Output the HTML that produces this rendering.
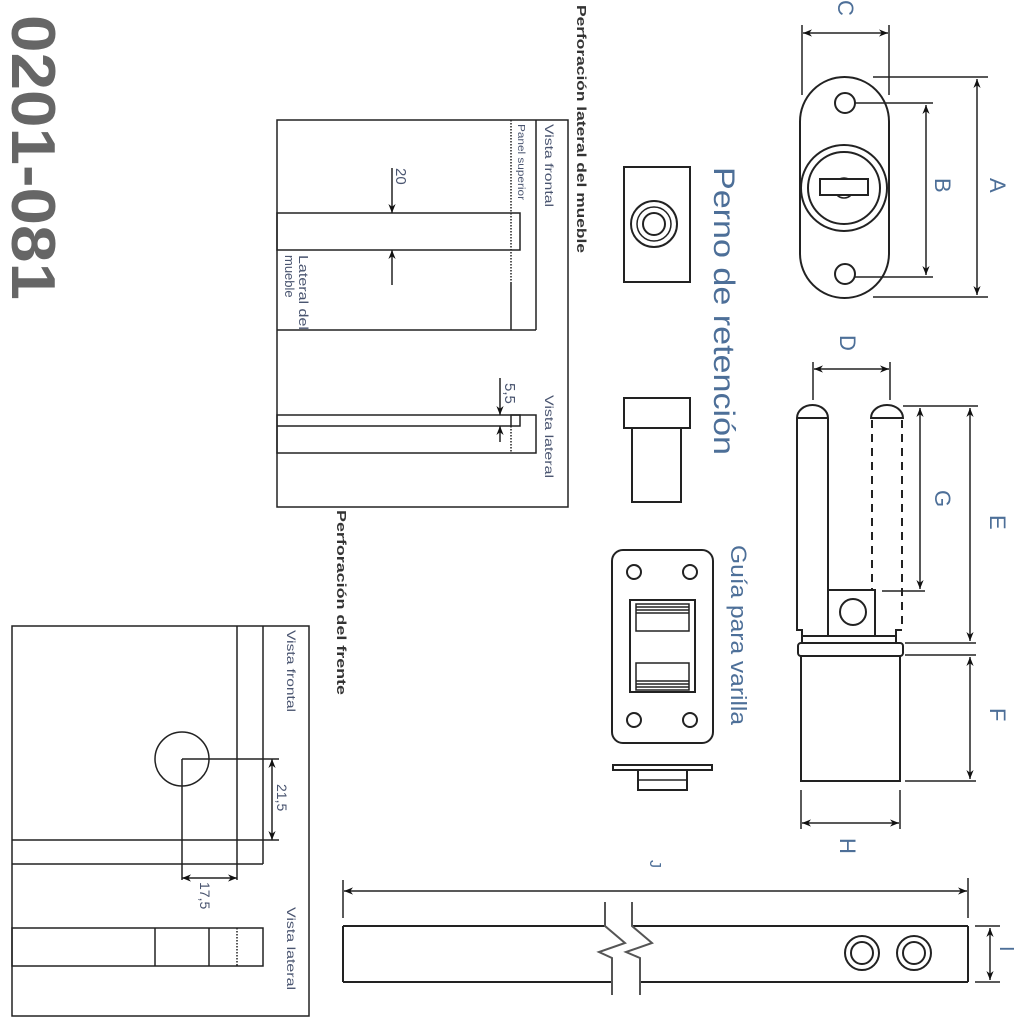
<!DOCTYPE html>
<html><head><meta charset="utf-8"><style>html,body{margin:0;padding:0;background:#fff}svg{display:block}</style></head>
<body>
<svg width="1024" height="1024" viewBox="0 0 1024 1024" xmlns="http://www.w3.org/2000/svg" font-family="Liberation Sans, DejaVu Sans, sans-serif">
<defs>
<marker id="ar" viewBox="0 0 10 10" refX="10" refY="5" markerWidth="9" markerHeight="9" orient="auto-start-reverse" markerUnits="userSpaceOnUse"><path d="M0,1 L10,5 L0,9 L3,5 Z" fill="#111"/></marker>
</defs>
<rect width="1024" height="1024" fill="#fff"/>
<text transform="translate(12,15) rotate(90)" font-size="62" font-weight="bold" fill="#666" textLength="285" lengthAdjust="spacingAndGlyphs">0201-081</text>

<g stroke="#222" stroke-width="1.5" fill="none">
<rect x="277" y="120" width="291" height="387"/>
<line x1="536" y1="120" x2="536" y2="330"/>
<line x1="511" y1="283" x2="511" y2="330"/>
<line x1="511" y1="120" x2="511" y2="283" stroke-dasharray="1.5,1.5"/>
<rect x="277" y="213" width="243" height="37"/>
<line x1="277" y1="330" x2="536" y2="330"/>
<line x1="392" y1="168" x2="392" y2="213" marker-end="url(#ar)"/>
<line x1="392" y1="285" x2="392" y2="250" marker-end="url(#ar)"/>
<rect x="277" y="415" width="259" height="38"/>
<line x1="277" y1="426" x2="511" y2="426"/>
<rect x="511" y="415" width="9" height="11"/>
<line x1="511" y1="426" x2="511" y2="453" stroke-dasharray="1.5,1.5"/>
<line x1="500" y1="378" x2="500" y2="415" marker-end="url(#ar)"/>
<line x1="500" y1="442" x2="500" y2="426" marker-end="url(#ar)"/>

<rect x="12" y="626" width="297" height="390"/>
<line x1="263" y1="626" x2="263" y2="864"/>
<line x1="237" y1="626" x2="237" y2="840"/>
<line x1="12" y1="840" x2="237" y2="840"/>
<line x1="12" y1="864" x2="263" y2="864"/>
<circle cx="182" cy="759" r="27"/>
<line x1="182" y1="759" x2="279" y2="759"/>
<line x1="182" y1="759" x2="182" y2="880"/>
<line x1="237" y1="840" x2="279" y2="840"/>
<line x1="237" y1="840" x2="237" y2="880"/>
<line x1="272" y1="759" x2="272" y2="840" marker-start="url(#ar)" marker-end="url(#ar)"/>
<line x1="182" y1="878" x2="237" y2="878" marker-start="url(#ar)" marker-end="url(#ar)"/>
<rect x="12" y="928" width="251" height="38"/>
<line x1="155" y1="928" x2="155" y2="966"/>
<line x1="209" y1="928" x2="209" y2="966"/>
<line x1="237" y1="928" x2="237" y2="966" stroke-dasharray="1.5,1.5"/>

<rect x="800" y="77" width="89" height="221" rx="44.5" ry="44.5" stroke-width="2"/>
<circle cx="845" cy="103" r="10" stroke-width="2"/>
<circle cx="845" cy="274" r="10" stroke-width="2"/>
<circle cx="844" cy="188" r="43" stroke-width="2"/>
<circle cx="844" cy="188" r="36" stroke-width="2"/>
<circle cx="844" cy="188" r="10" stroke-width="1.5"/>
<rect x="820" y="179" width="48" height="16" fill="#fff" stroke-width="2"/>
<line x1="802" y1="25" x2="802" y2="95"/>
<line x1="889" y1="25" x2="889" y2="95"/>
<line x1="803" y1="33" x2="888" y2="33" marker-start="url(#ar)" marker-end="url(#ar)"/>
<line x1="873" y1="77" x2="988" y2="77"/>
<line x1="873" y1="297" x2="988" y2="297"/>
<line x1="977" y1="79" x2="977" y2="295" marker-start="url(#ar)" marker-end="url(#ar)"/>
<line x1="855" y1="103" x2="933" y2="103"/>
<line x1="855" y1="277" x2="933" y2="277"/>
<line x1="926" y1="105" x2="926" y2="275" marker-start="url(#ar)" marker-end="url(#ar)"/>

<rect x="624" y="167" width="66" height="115" stroke-width="2"/>
<circle cx="654" cy="224" r="23" stroke-width="2"/>
<circle cx="654" cy="224" r="17" stroke-width="1.5"/>
<circle cx="654" cy="224" r="11" stroke-width="2"/>
<rect x="624" y="398" width="66" height="30" stroke-width="2"/>
<rect x="632" y="428" width="49" height="74" stroke-width="2"/>

<path d="M797,418 A15.5,13 0 0 1 828,418 Z" stroke-width="2"/>
<path d="M797,418 L797,630 L802,630 L802,643" stroke-width="2"/>
<line x1="828" y1="418" x2="828" y2="636" stroke-width="2"/>
<path d="M871,418 A16,13 0 0 1 903,418 Z" stroke-width="2"/>
<line x1="872" y1="420" x2="872" y2="590" stroke-dasharray="8,6" stroke-width="2"/>
<line x1="902" y1="420" x2="902" y2="630" stroke-dasharray="8,6" stroke-width="2"/>
<path d="M902,630 L896,630 L896,643" stroke-width="2"/>
<rect x="828" y="590" width="47" height="46" stroke-width="2"/>
<circle cx="853" cy="612" r="13" stroke-width="2"/>
<line x1="802" y1="636" x2="896" y2="636" stroke-width="2"/>
<rect x="798" y="643" width="105" height="13" rx="3" stroke-width="2"/>
<rect x="801" y="656" width="99" height="125" stroke-width="2"/>
<line x1="813" y1="362" x2="813" y2="400"/>
<line x1="890" y1="362" x2="890" y2="400"/>
<line x1="814" y1="369" x2="889" y2="369" marker-start="url(#ar)" marker-end="url(#ar)"/>
<line x1="903" y1="406" x2="978" y2="406"/>
<line x1="882" y1="591" x2="925" y2="591"/>
<line x1="920" y1="408" x2="920" y2="589" marker-start="url(#ar)" marker-end="url(#ar)"/>
<line x1="970" y1="408" x2="970" y2="641" marker-start="url(#ar)" marker-end="url(#ar)"/>
<line x1="905" y1="643" x2="976" y2="643"/>
<line x1="905" y1="655" x2="976" y2="655"/>
<line x1="970" y1="657" x2="970" y2="779" marker-start="url(#ar)" marker-end="url(#ar)"/>
<line x1="905" y1="781" x2="976" y2="781"/>
<line x1="801" y1="790" x2="801" y2="829"/>
<line x1="900" y1="790" x2="900" y2="829"/>
<line x1="802" y1="823" x2="899" y2="823" marker-start="url(#ar)" marker-end="url(#ar)"/>

<rect x="612" y="550" width="101" height="193" rx="11" stroke-width="2"/>
<circle cx="634" cy="572" r="7" stroke-width="2"/>
<circle cx="690" cy="572" r="7" stroke-width="2"/>
<circle cx="634" cy="720" r="7" stroke-width="2"/>
<circle cx="690" cy="720" r="7" stroke-width="2"/>
<rect x="630" y="600" width="65" height="92" stroke-width="2"/>
<rect x="636" y="604" width="53" height="27"/>
<line x1="636" y1="607" x2="689" y2="607"/><line x1="636" y1="610" x2="689" y2="610"/><line x1="636" y1="613" x2="689" y2="613"/>
<rect x="636" y="663" width="53" height="27"/>
<line x1="636" y1="681" x2="689" y2="681"/><line x1="636" y1="684" x2="689" y2="684"/><line x1="636" y1="687" x2="689" y2="687"/>
<rect x="613" y="765" width="99" height="5" stroke-width="2"/>
<rect x="638" y="770" width="49" height="20" stroke-width="2"/>
<line x1="638" y1="780" x2="687" y2="780"/>

<line x1="343" y1="926" x2="605" y2="926" stroke-width="2"/>
<line x1="632" y1="926" x2="968" y2="926" stroke-width="2"/>
<line x1="343" y1="982" x2="612" y2="982" stroke-width="2"/>
<line x1="640" y1="982" x2="968" y2="982" stroke-width="2"/>
<line x1="343" y1="926" x2="343" y2="982" stroke-width="2"/>
<line x1="968" y1="926" x2="968" y2="982" stroke-width="2"/>
<polyline points="605,902 605,926 625,943 599,952 612,958 612,995" stroke="#555" stroke-width="2"/>
<polyline points="632,902 632,926 652,943 626,952 640,958 640,995" stroke="#555" stroke-width="2"/>
<circle cx="862" cy="953" r="17" stroke-width="2"/>
<circle cx="862" cy="953" r="11" stroke-width="2"/>
<circle cx="914" cy="953" r="17" stroke-width="2"/>
<circle cx="914" cy="953" r="11" stroke-width="2"/>
<line x1="343" y1="880" x2="343" y2="918"/>
<line x1="968" y1="878" x2="968" y2="918"/>
<line x1="344" y1="891" x2="967" y2="891" marker-start="url(#ar)" marker-end="url(#ar)"/>
<line x1="975" y1="926" x2="1000" y2="926"/>
<line x1="975" y1="982" x2="1000" y2="982"/>
<line x1="990" y1="928" x2="990" y2="980" marker-start="url(#ar)" marker-end="url(#ar)"/>
</g>

<g fill="#333">
<text transform="translate(577,5) rotate(90)" font-size="13" font-weight="bold" textLength="248" lengthAdjust="spacingAndGlyphs">Perforación lateral del mueble</text>
<text transform="translate(337,510) rotate(90)" font-size="13" font-weight="bold" textLength="185" lengthAdjust="spacingAndGlyphs">Perforación del frente</text>
</g>
<g fill="#4a5570">
<text transform="translate(545,124) rotate(90)" font-size="12" textLength="83" lengthAdjust="spacingAndGlyphs">Vista frontal</text>
<text transform="translate(518,124) rotate(90)" font-size="10" textLength="76" lengthAdjust="spacingAndGlyphs">Panel superior</text>
<text transform="translate(299,255) rotate(90)" font-size="13" textLength="75" lengthAdjust="spacingAndGlyphs">Lateral del</text>
<text transform="translate(285,255) rotate(90)" font-size="13">mueble</text>
<text transform="translate(396,168) rotate(90)" font-size="15">20</text>
<text transform="translate(505,383) rotate(90)" font-size="15">5,5</text>
<text transform="translate(545,395) rotate(90)" font-size="12" textLength="83" lengthAdjust="spacingAndGlyphs">Vista lateral</text>
<text transform="translate(287,630) rotate(90)" font-size="12" textLength="82" lengthAdjust="spacingAndGlyphs">Vista frontal</text>
<text transform="translate(287,907) rotate(90)" font-size="12" textLength="83" lengthAdjust="spacingAndGlyphs">Vista lateral</text>
<text transform="translate(277,784) rotate(90)" font-size="14">21,5</text>
<text transform="translate(200,882) rotate(90)" font-size="14">17,5</text>
</g>
<g fill="#4d6f98">
<text transform="translate(714,167) rotate(90)" font-size="30" textLength="288" lengthAdjust="spacingAndGlyphs">Perno de retención</text>
<text transform="translate(731,545) rotate(90)" font-size="22" textLength="180" lengthAdjust="spacingAndGlyphs">Guía para varilla</text>
<text transform="translate(838,0) rotate(90)" font-size="22">C</text>
<text transform="translate(990,178) rotate(90)" font-size="22">A</text>
<text transform="translate(935,178) rotate(90)" font-size="22">B</text>
<text transform="translate(840,335) rotate(90)" font-size="22">D</text>
<text transform="translate(935,490) rotate(90)" font-size="22">G</text>
<text transform="translate(990,515) rotate(90)" font-size="22">E</text>
<text transform="translate(990,708) rotate(90)" font-size="22">F</text>
<text transform="translate(840,838) rotate(90)" font-size="22">H</text>
<text transform="translate(650,860) rotate(90)" font-size="16">J</text>
<text transform="translate(1000,946) rotate(90)" font-size="20">I</text>
</g>
</svg>
</body></html>
